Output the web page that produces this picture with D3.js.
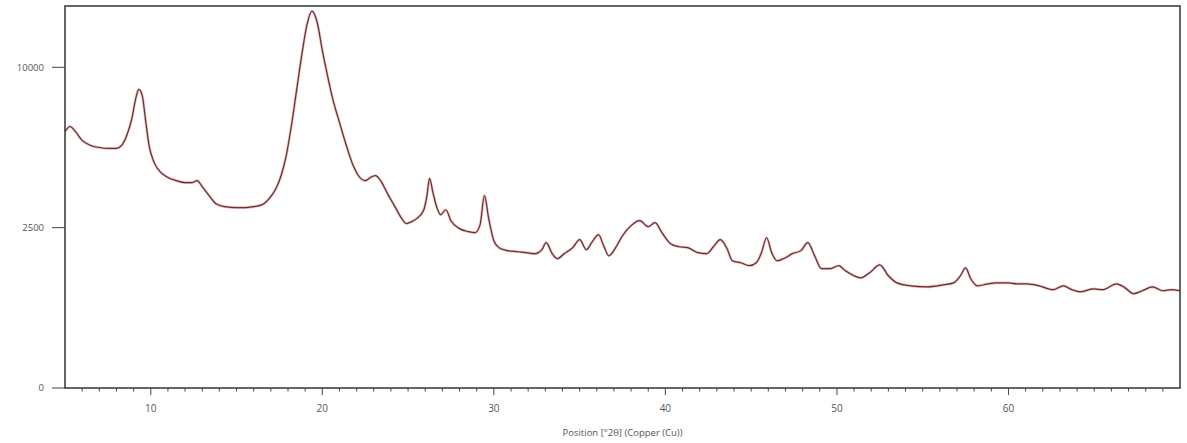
<!DOCTYPE html>
<html>
<head>
<meta charset="utf-8">
<script src="https://cdn.jsdelivr.net/npm/d3@7"></script>
<style>
  body { margin: 0; background: #fff; }
  text { font-family: "Open Sans", "DejaVu Sans", sans-serif; }
</style>
</head>
<body>
<script>
// 2theta positions (degrees)
var positions = [
  5.0, 5.3, 5.6, 6.0, 6.5, 7.0, 7.5, 8.0, 8.3, 8.6, 8.9, 9.1, 9.3, 9.5, 9.7, 9.9,
  10.2, 10.6, 11.0, 11.5, 12.0, 12.4, 12.7, 13.0, 13.4, 13.8, 14.3, 15.0, 15.5, 16.0,
  16.5, 16.9, 17.3, 17.6, 17.9, 18.2, 18.5, 18.8, 19.1, 19.4, 19.7, 20.0, 20.3, 20.6,
  21.0, 21.4, 21.8, 22.1, 22.5, 22.8, 23.1, 23.4, 23.8, 24.2, 24.6, 24.9, 25.2, 25.5,
  25.9, 26.1, 26.25, 26.45, 26.7, 26.9, 27.2, 27.5, 28.0, 28.5, 28.9, 29.2, 29.45, 29.7,
  30.0, 30.3, 30.8, 31.4, 31.9, 32.4, 32.8, 33.05, 33.4, 33.7, 34.1, 34.6, 35.0, 35.4,
  35.7, 36.1, 36.4, 36.7, 37.1, 37.5, 38.0, 38.5, 39.0, 39.4, 39.8, 40.3, 40.8, 41.3,
  41.9, 42.4, 42.8, 43.2, 43.6, 43.9, 44.4, 44.9, 45.3, 45.6, 45.9, 46.2, 46.5, 47.0,
  47.4, 47.9, 48.3, 48.7, 49.1, 49.6, 50.1, 50.5, 51.0, 51.4, 51.9, 52.5, 53.0, 53.5,
  54.3, 55.3, 56.2, 56.8, 57.2, 57.5, 57.8, 58.2, 58.8, 59.3, 60.0, 60.5, 61.1, 61.8,
  62.6, 63.2, 63.7, 64.2, 64.95, 65.5, 66.3, 66.8, 67.3, 67.8, 68.4, 69.0, 69.5, 70.0
];
// intensity (counts)
var counts = [
  6400, 6650, 6400, 5960, 5720, 5625, 5580, 5580, 5720, 6200, 7070, 8040, 8670, 8330, 6960, 5720,
  4940, 4510, 4310, 4180, 4100, 4100, 4180, 3945, 3600, 3305, 3200, 3165, 3165, 3200,
  3270, 3490, 3870, 4390, 5260, 6700, 8610, 10760, 12800, 13810, 13010, 11090, 9500, 8160,
  6860, 5720, 4810, 4390, 4180, 4310, 4390, 4180, 3675, 3235, 2820, 2630, 2690, 2790,
  3060, 3600, 4270, 3710, 3130, 2920, 3090, 2720, 2470, 2380, 2345, 2595, 3600, 2790,
  2110, 1915, 1835, 1805, 1780, 1755, 1860, 2055, 1755, 1625, 1755, 1915, 2140, 1860,
  2055, 2285, 1970, 1700, 1915, 2255, 2565, 2725, 2530, 2660, 2345, 2025, 1940, 1915,
  1780, 1755, 1940, 2140, 1885, 1575, 1525, 1455, 1525, 1780, 2195, 1780, 1575, 1650,
  1755, 1835, 2055, 1700, 1385, 1385, 1455, 1335, 1225, 1180, 1290, 1475, 1225, 1075,
  1015, 995, 1035, 1075, 1225, 1405, 1160, 1015, 1055, 1075, 1075, 1055, 1055, 1015,
  940, 1015, 940, 900, 955, 940, 1055, 975, 865, 920, 995, 920, 940, 920
];
var yTickValues = [0, 2500, 10000];
var xTickValues = [10, 20, 30, 40, 50, 60];
var xTitle = "Position [°2θ] (Copper (Cu))";

var width = 1187, height = 443;
var margin = {top: 6, right: 7, bottom: 55, left: 65};

var svg = d3.select("body").append("svg")
    .attr("width", width)
    .attr("height", height);

var x = d3.scaleLinear()
    .domain([5, 70])
    .range([margin.left, width - margin.right]);

var y = d3.scaleSqrt()
    .domain([0, 14190])
    .range([height - margin.bottom, margin.top]);

var data = positions.map(function(p, i) { return {p: p, c: counts[i]}; });

var line = d3.line()
    .x(function(d) { return x(d.p); })
    .y(function(d) { return y(d.c); })
    .curve(d3.curveMonotoneX);

// faint red halo under a dark trace
svg.append("path")
    .datum(data)
    .attr("d", line)
    .attr("fill", "none")
    .attr("stroke", "#e03030")
    .attr("stroke-opacity", 0.35)
    .attr("stroke-width", 2.6);

svg.append("path")
    .datum(data)
    .attr("d", line)
    .attr("fill", "none")
    .attr("stroke", "#5a3436")
    .attr("stroke-width", 1.2);

// frame
svg.append("rect")
    .attr("x", margin.left)
    .attr("y", margin.top)
    .attr("width", width - margin.left - margin.right)
    .attr("height", height - margin.top - margin.bottom)
    .attr("fill", "none")
    .attr("stroke", "#333")
    .attr("stroke-width", 1.5);

// x axis: minor ticks every degree, major every 10
var xAxisG = svg.append("g")
    .attr("transform", "translate(0," + (height - margin.bottom) + ")");

xAxisG.selectAll("line.minor")
    .data(d3.range(6, 70))
    .enter().append("line")
    .attr("class", "minor")
    .attr("x1", function(d) { return x(d); })
    .attr("x2", function(d) { return x(d); })
    .attr("y1", 0)
    .attr("y2", function(d) { return d % 10 === 0 ? 7 : 3.5; })
    .attr("stroke", "#444")
    .attr("stroke-width", 1);

xAxisG.selectAll("text")
    .data(xTickValues)
    .enter().append("text")
    .attr("x", function(d) { return x(d); })
    .attr("y", 24)
    .attr("text-anchor", "middle")
    .attr("font-size", 10)
    .attr("fill", "#555")
    .text(function(d) { return d; });

svg.append("text")
    .attr("x", (margin.left + width - margin.right) / 2)
    .attr("y", height - 7)
    .attr("text-anchor", "middle")
    .attr("font-size", 9.5)
    .attr("fill", "#555")
    .text(xTitle);

// y axis
var yAxisG = svg.append("g");

yAxisG.selectAll("line")
    .data(yTickValues)
    .enter().append("line")
    .attr("x1", margin.left - 13)
    .attr("x2", margin.left)
    .attr("y1", function(d) { return y(d); })
    .attr("y2", function(d) { return y(d); })
    .attr("stroke", "#444");

yAxisG.selectAll("text")
    .data(yTickValues)
    .enter().append("text")
    .attr("x", margin.left - 21)
    .attr("y", function(d) { return y(d); })
    .attr("dy", "0.35em")
    .attr("text-anchor", "end")
    .attr("font-size", 9.5)
    .attr("fill", "#555")
    .text(function(d) { return d; });
</script>
</body>
</html>
